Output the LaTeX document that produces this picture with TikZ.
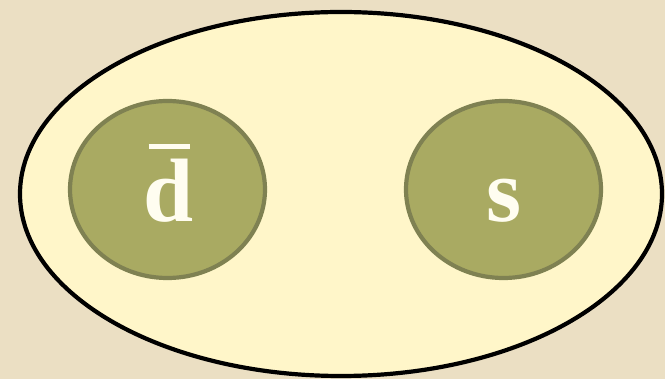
\documentclass[tikz,border=0pt]{standalone}
\usepackage{fontspec}
\setmainfont{Liberation Serif}
\usetikzlibrary{shapes.geometric}
\definecolor{bgbeige}{HTML}{EBDFC3}
\definecolor{outerfill}{HTML}{FFF6C9}
\definecolor{quarkfill}{HTML}{A9AA62}
\definecolor{quarkline}{HTML}{7F8152}
\definecolor{quarktext}{HTML}{FFFDF0}
\newcommand{\barredletter}[1]{\setbox0\hbox{#1}\vbox{\offinterlineskip\hbox to\wd0{\hss\vrule width 41pt height 5pt depth 0pt\hss}\kern11pt\box0}}
\tikzset{
  outerell/.style={ellipse, draw=black, fill=outerfill, line width=4.2pt, inner sep=0pt,
    minimum width=642pt, minimum height=364pt},
  quark/.style={ellipse, draw=quarkline, fill=quarkfill, line width=4.2pt, inner sep=0pt,
    minimum width=195pt, minimum height=177pt},
  qtext/.style={text=quarktext, inner sep=0pt, anchor=base,
    font=\fontsize{90}{92}\selectfont\bfseries}
}
\begin{document}
\begin{tikzpicture}[x=1pt,y=-1pt]
\fill[bgbeige] (0,0) rectangle (665,379);
\useasboundingbox (0,0) rectangle (665,379);
\node[outerell] (hadron) at (341,194) {};
\node[quark] (dq) at (167.5,189.5) {};
\node[quark] (sq) at (503.5,189.5) {};
\node[qtext] (dlabel) at (169,222) {\barredletter{d}};
\node[qtext] (slabel) at (504.5,222) {s};
\end{tikzpicture}
\end{document}
